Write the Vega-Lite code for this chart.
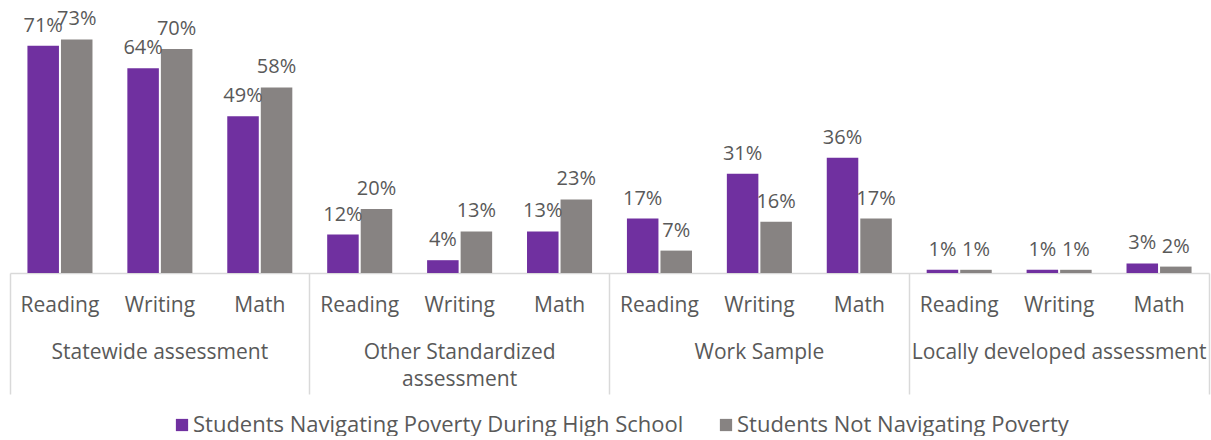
{
  "$schema": "https://vega.github.io/schema/vega-lite/v6.json",
  "width": 1199,
  "height": 256,
  "padding": {"left": 9, "top": 9, "right": 2, "bottom": 0},
  "autosize": {"type": "pad"},
  "config": {
    "view": {"stroke": null},
    "font": "Open Sans",
    "axis": {"labelColor": "#595959", "labelFont": "Open Sans"},
    "legend": {"labelColor": "#595959", "labelFont": "Open Sans"}
  },
  "data": {
    "values": [
      {"group": "Statewide assessment", "subject": "Reading", "key": "Statewide assessment|Reading", "series": "Students Navigating Poverty During High School", "value": 0.71},
      {"group": "Statewide assessment", "subject": "Reading", "key": "Statewide assessment|Reading", "series": "Students Not Navigating Poverty", "value": 0.73},
      {"group": "Statewide assessment", "subject": "Writing", "key": "Statewide assessment|Writing", "series": "Students Navigating Poverty During High School", "value": 0.64},
      {"group": "Statewide assessment", "subject": "Writing", "key": "Statewide assessment|Writing", "series": "Students Not Navigating Poverty", "value": 0.70},
      {"group": "Statewide assessment", "subject": "Math", "key": "Statewide assessment|Math", "series": "Students Navigating Poverty During High School", "value": 0.49},
      {"group": "Statewide assessment", "subject": "Math", "key": "Statewide assessment|Math", "series": "Students Not Navigating Poverty", "value": 0.58},
      {"group": "Other Standardized assessment", "subject": "Reading", "key": "Other Standardized assessment|Reading", "series": "Students Navigating Poverty During High School", "value": 0.12},
      {"group": "Other Standardized assessment", "subject": "Reading", "key": "Other Standardized assessment|Reading", "series": "Students Not Navigating Poverty", "value": 0.20},
      {"group": "Other Standardized assessment", "subject": "Writing", "key": "Other Standardized assessment|Writing", "series": "Students Navigating Poverty During High School", "value": 0.04},
      {"group": "Other Standardized assessment", "subject": "Writing", "key": "Other Standardized assessment|Writing", "series": "Students Not Navigating Poverty", "value": 0.13},
      {"group": "Other Standardized assessment", "subject": "Math", "key": "Other Standardized assessment|Math", "series": "Students Navigating Poverty During High School", "value": 0.13},
      {"group": "Other Standardized assessment", "subject": "Math", "key": "Other Standardized assessment|Math", "series": "Students Not Navigating Poverty", "value": 0.23},
      {"group": "Work Sample", "subject": "Reading", "key": "Work Sample|Reading", "series": "Students Navigating Poverty During High School", "value": 0.17},
      {"group": "Work Sample", "subject": "Reading", "key": "Work Sample|Reading", "series": "Students Not Navigating Poverty", "value": 0.07},
      {"group": "Work Sample", "subject": "Writing", "key": "Work Sample|Writing", "series": "Students Navigating Poverty During High School", "value": 0.31},
      {"group": "Work Sample", "subject": "Writing", "key": "Work Sample|Writing", "series": "Students Not Navigating Poverty", "value": 0.16},
      {"group": "Work Sample", "subject": "Math", "key": "Work Sample|Math", "series": "Students Navigating Poverty During High School", "value": 0.36},
      {"group": "Work Sample", "subject": "Math", "key": "Work Sample|Math", "series": "Students Not Navigating Poverty", "value": 0.17},
      {"group": "Locally developed assessment", "subject": "Reading", "key": "Locally developed assessment|Reading", "series": "Students Navigating Poverty During High School", "value": 0.01},
      {"group": "Locally developed assessment", "subject": "Reading", "key": "Locally developed assessment|Reading", "series": "Students Not Navigating Poverty", "value": 0.01},
      {"group": "Locally developed assessment", "subject": "Writing", "key": "Locally developed assessment|Writing", "series": "Students Navigating Poverty During High School", "value": 0.01},
      {"group": "Locally developed assessment", "subject": "Writing", "key": "Locally developed assessment|Writing", "series": "Students Not Navigating Poverty", "value": 0.01},
      {"group": "Locally developed assessment", "subject": "Math", "key": "Locally developed assessment|Math", "series": "Students Navigating Poverty During High School", "value": 0.03},
      {"group": "Locally developed assessment", "subject": "Math", "key": "Locally developed assessment|Math", "series": "Students Not Navigating Poverty", "value": 0.02}
    ]
  },
  "layer": [
    {
      "mark": {"type": "bar"},
      "encoding": {
        "x": {
          "field": "key", "type": "nominal", "sort": null,
          "scale": {"paddingInner": 0, "paddingOuter": 0},
          "axis": {
            "orient": "bottom", "title": null, "labelExpr": "split(datum.label,'|')[1]", "ticks": false,
            "domainColor": "#D9D9D9", "domainWidth": 1.5, "labelPadding": 21,
            "labelFontSize": 21, "labelAngle": 0
          }
        },
        "xOffset": {"field": "series", "type": "nominal", "sort": null, "scale": {"paddingInner": 0.06, "paddingOuter": 0.52}},
        "y": {"field": "value", "type": "quantitative", "scale": {"domain": [0, 0.8]}, "axis": null},
        "color": {
          "field": "series", "type": "nominal", "sort": null,
          "scale": {"domain": ["Students Navigating Poverty During High School", "Students Not Navigating Poverty"], "range": ["#7030A0", "#878382"]},
          "legend": {
            "title": null, "orient": "none", "legendX": 161, "legendY": 397, "direction": "horizontal", "symbolType": "square",
            "symbolSize": 150, "symbolStrokeWidth": 0, "labelFontSize": 22, "labelOffset": 0, "columnPadding": 31, "labelLimit": 1000
          }
        }
      }
    },
    {
      "mark": {"type": "text", "baseline": "alphabetic", "dy": -14, "fontSize": 20, "color": "#595959"},
      "encoding": {
        "x": {"field": "key", "type": "nominal", "sort": null, "axis": null},
        "xOffset": {"field": "series", "type": "nominal", "sort": null},
        "y": {"field": "value", "type": "quantitative", "axis": null},
        "text": {"field": "value", "type": "quantitative", "format": ".0%"}
      }
    },
    {
      "mark": {"type": "bar", "opacity": 0},
      "encoding": {
        "x": {
          "field": "key", "type": "nominal", "sort": null,
          "axis": {
            "orient": "bottom", "title": null, "domain": false, "ticks": false, "labelLimit": 500,
            "values": ["Statewide assessment|Writing", "Other Standardized assessment|Writing", "Work Sample|Writing", "Locally developed assessment|Writing"],
            "labelPadding": 68, "labelFontSize": 21, "labelAngle": 0, "labelLineHeight": 27,
            "labelExpr": "split(datum.label,'|')[0] == 'Other Standardized assessment' ? ['Other Standardized', 'assessment'] : split(datum.label,'|')[0]"
          }
        },
        "xOffset": {"field": "series", "type": "nominal", "sort": null},
        "y": {"field": "value", "type": "quantitative", "axis": null}
      }
    },
    {
      "mark": {"type": "bar", "opacity": 0},
      "encoding": {
        "x": {
          "field": "key", "type": "nominal", "sort": null,
          "axis": {
            "orient": "bottom", "title": null, "domain": false, "labels": false, "ticks": true, "bandPosition": 0,
            "values": ["Statewide assessment|Reading", "Other Standardized assessment|Reading", "Work Sample|Reading", "Locally developed assessment|Reading"],
            "tickSize": 121, "tickColor": "#D9D9D9", "tickWidth": 1.5
          }
        },
        "xOffset": {"field": "series", "type": "nominal", "sort": null},
        "y": {"field": "value", "type": "quantitative", "axis": null}
      }
    },
    {
      "mark": {"type": "bar", "opacity": 0},
      "encoding": {
        "x": {
          "field": "key", "type": "nominal", "sort": null,
          "axis": {
            "orient": "bottom", "title": null, "domain": false, "labels": false, "ticks": true, "bandPosition": 1,
            "values": ["Locally developed assessment|Math"],
            "tickSize": 121, "tickColor": "#D9D9D9", "tickWidth": 1.5
          }
        },
        "xOffset": {"field": "series", "type": "nominal", "sort": null},
        "y": {"field": "value", "type": "quantitative", "axis": null}
      }
    }
  ],
  "resolve": {"axis": {"x": "independent"}}
}
